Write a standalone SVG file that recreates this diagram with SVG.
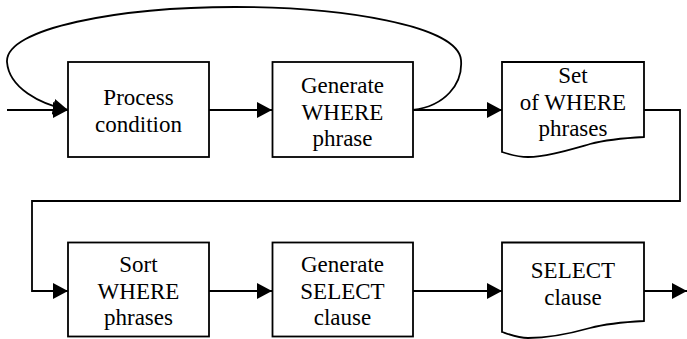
<svg xmlns="http://www.w3.org/2000/svg" width="687" height="339" viewBox="0 0 687 339">
<style>
.box{fill:#fff;stroke:#000;stroke-width:1.8}
.t{font-family:"Liberation Serif","Times New Roman",serif;font-size:23px;fill:#000;text-anchor:middle}
.c{fill:none;stroke:#000;stroke-width:1.8}
</style>
<defs>
<marker id="ah" markerUnits="userSpaceOnUse" markerWidth="15" markerHeight="16" refX="15" refY="8" orient="auto">
<path d="M0,0 L15,8 L0,16 z" fill="#000"/>
</marker>
</defs>
<g id="connectors">
<path class="c" d="M7,110 L68,110" marker-end="url(#ah)"/>
<path class="c" d="M413,110 C445,106 463,84 461,60 C458,25 340,7 235,7 C120,7 5,28 7,62 C9,88 40,104 68,110" marker-end="url(#ah)"/>
<path class="c" d="M209,110 L272,110" marker-end="url(#ah)"/>
<path class="c" d="M413,110 L502,110" marker-end="url(#ah)"/>
<path class="c" d="M644,110 L680,110 L680,201 L32,201 L32,291 L68,291" marker-end="url(#ah)"/>
<path class="c" d="M209,291 L272,291" marker-end="url(#ah)"/>
<path class="c" d="M413,291 L502,291" marker-end="url(#ah)"/>
<path class="c" d="M644,291 L687,291" marker-end="url(#ah)"/>
</g>
<g id="process-condition">
<rect class="box" x="68" y="62" width="141" height="95"/>
<text class="t" x="138.5" y="105">Process</text>
<text class="t" x="138.5" y="132">condition</text>
</g>
<g id="generate-where">
<rect class="box" x="272.5" y="62" width="140.5" height="95"/>
<text class="t" x="342.5" y="93">Generate</text>
<text class="t" x="342.5" y="120">WHERE</text>
<text class="t" x="342.5" y="146">phrase</text>
</g>
<g id="set-of-where">
<path class="box" d="M502,62 L644,62 L644,137 C625,138 605,140 590,144 C565,151 545,157 528,157 C518,157 508,154 502,152 Z"/>
<text class="t" x="573" y="83">Set</text>
<text class="t" x="573" y="110">of WHERE</text>
<text class="t" x="573" y="136">phrases</text>
</g>
<g id="sort-where">
<rect class="box" x="68" y="242.5" width="141" height="94"/>
<text class="t" x="138.5" y="272">Sort</text>
<text class="t" x="138.5" y="299">WHERE</text>
<text class="t" x="138.5" y="325">phrases</text>
</g>
<g id="generate-select">
<rect class="box" x="272.5" y="242.5" width="140.5" height="94"/>
<text class="t" x="342.5" y="272">Generate</text>
<text class="t" x="342.5" y="299">SELECT</text>
<text class="t" x="342.5" y="325">clause</text>
</g>
<g id="select-clause">
<path class="box" d="M502,242.5 L644,242.5 L644,321 C625,322 605,324 590,328 C565,335 545,338 528,338 C518,338 508,334 502,332 Z"/>
<text class="t" x="573" y="278">SELECT</text>
<text class="t" x="573" y="305">clause</text>
</g>
</svg>
